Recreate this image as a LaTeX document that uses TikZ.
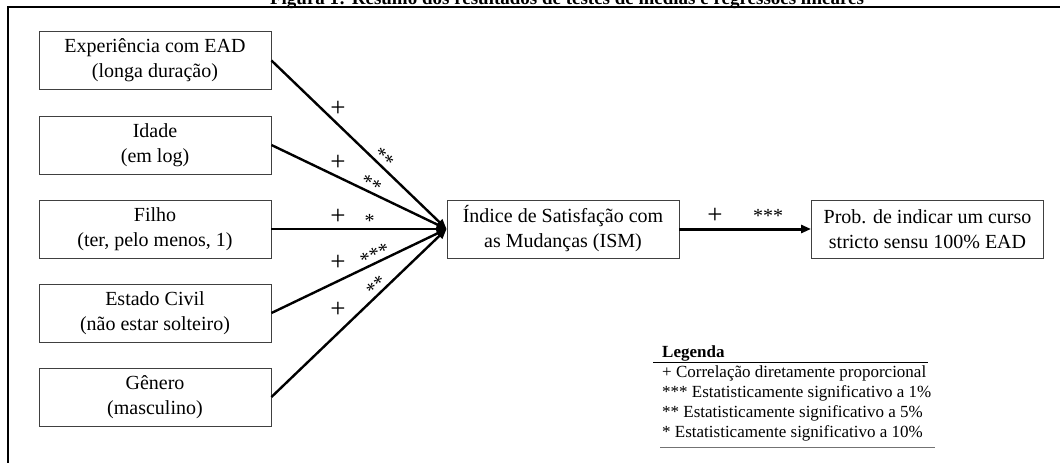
\documentclass[tikz,border=0pt]{standalone}
\usepackage{fontspec}
\setmainfont{Liberation Serif}
\usetikzlibrary{arrows.meta}
\begin{document}
\begin{tikzpicture}[x=1pt,y=-1pt,
  box/.style={draw=black!75, line width=0.9pt, minimum width=232pt, minimum height=58pt,
    align=center, inner sep=0pt, font=\fontsize{20}{25}\selectfont},
  link/.style={line width=2.4pt, -{Triangle[length=10pt,width=8pt]}},
  mainlink/.style={line width=3pt, -{Triangle[length=10pt,width=8pt]}},
  lbl/.style={font=\fontsize{27}{30}\selectfont, inner sep=0pt},
  starlbl/.style={font=\fontsize{20}{24}\selectfont, inner sep=0pt},
  star/.style={font=\fontsize{20}{24}\selectfont, inner sep=0pt, sloped, above},
  leg/.style={font=\fontsize{17}{20}\selectfont, anchor=base west, inner sep=0pt},
  frame/.style={line width=2pt}]
\useasboundingbox (0,0) rectangle (1060,463);
% title (cut off at the top) and frame
\node[font=\bfseries\fontsize{19}{23}\selectfont, anchor=base, inner sep=0pt] (title) at (567,5)
  {Figura 1: Resumo dos resultados de testes de médias e regressões lineares};
\draw[frame] (8,470) -- (8,7) -- (1070,7);
% boxes
\node[box] (b1) at (155,60.5) {Experiência com EAD\\(longa duração)};
\node[box] (b2) at (155,145) {Idade\\(em log)};
\node[box] (b3) at (155,229) {Filho\\(ter, pelo menos, 1)};
\node[box] (b4) at (155,313) {Estado Civil\\(não estar solteiro)};
\node[box] (b5) at (155,397) {Gênero\\(masculino)};
\node[box] (ism) at (563,229) {Índice de Satisfação com\\as Mudanças (ISM)};
\node[box] (prob) at (927.5,229) {Prob. de indicar um curso\\stricto sensu 100\% EAD};
% connectors
\draw[link] (b1.east) -- (ism.west) node[star, pos=.61] (s1) {**};
\draw[link] (b2.east) -- (ism.west) node[star, pos=.55] (s2) {**};
\draw[link] (b3.east) -- (ism.west) node[star, pos=.56] (s3) {*};
\draw[link] (b4.east) -- (ism.west) node[star, pos=.61] (s4) {***};
\draw[link] (b5.east) -- (ism.west) node[star, pos=.63] (s5) {**};
\draw[mainlink] (ism.east) -- (prob.west);
% plus labels
\node[lbl] (p1) at (338,109) {+};
\node[lbl] (p2) at (338,163) {+};
\node[lbl] (p3) at (338,217) {+};
\node[lbl] (p4) at (338,263) {+};
\node[lbl] (p5) at (338,310) {+};
\node[lbl] (p6) at (715,216) {+};
\node[starlbl] (s6) at (768,216) {***};
% legend
\node[leg, font=\bfseries\fontsize{17}{20}\selectfont] (legT) at (662,357) {Legenda};
\draw[line width=0.9pt] (653,362) -- (928,362);
\node[leg] (l1) at (662,377) {+ Correlação diretamente proporcional};
\node[leg] (l2) at (662,397) {*** Estatisticamente significativo a 1\%};
\node[leg] (l3) at (662,417) {** Estatisticamente significativo a 5\%};
\node[leg] (l4) at (662,437) {* Estatisticamente significativo a 10\%};
\draw[draw=black!55, line width=0.9pt] (660,447) -- (935,447);
\end{tikzpicture}
\end{document}
